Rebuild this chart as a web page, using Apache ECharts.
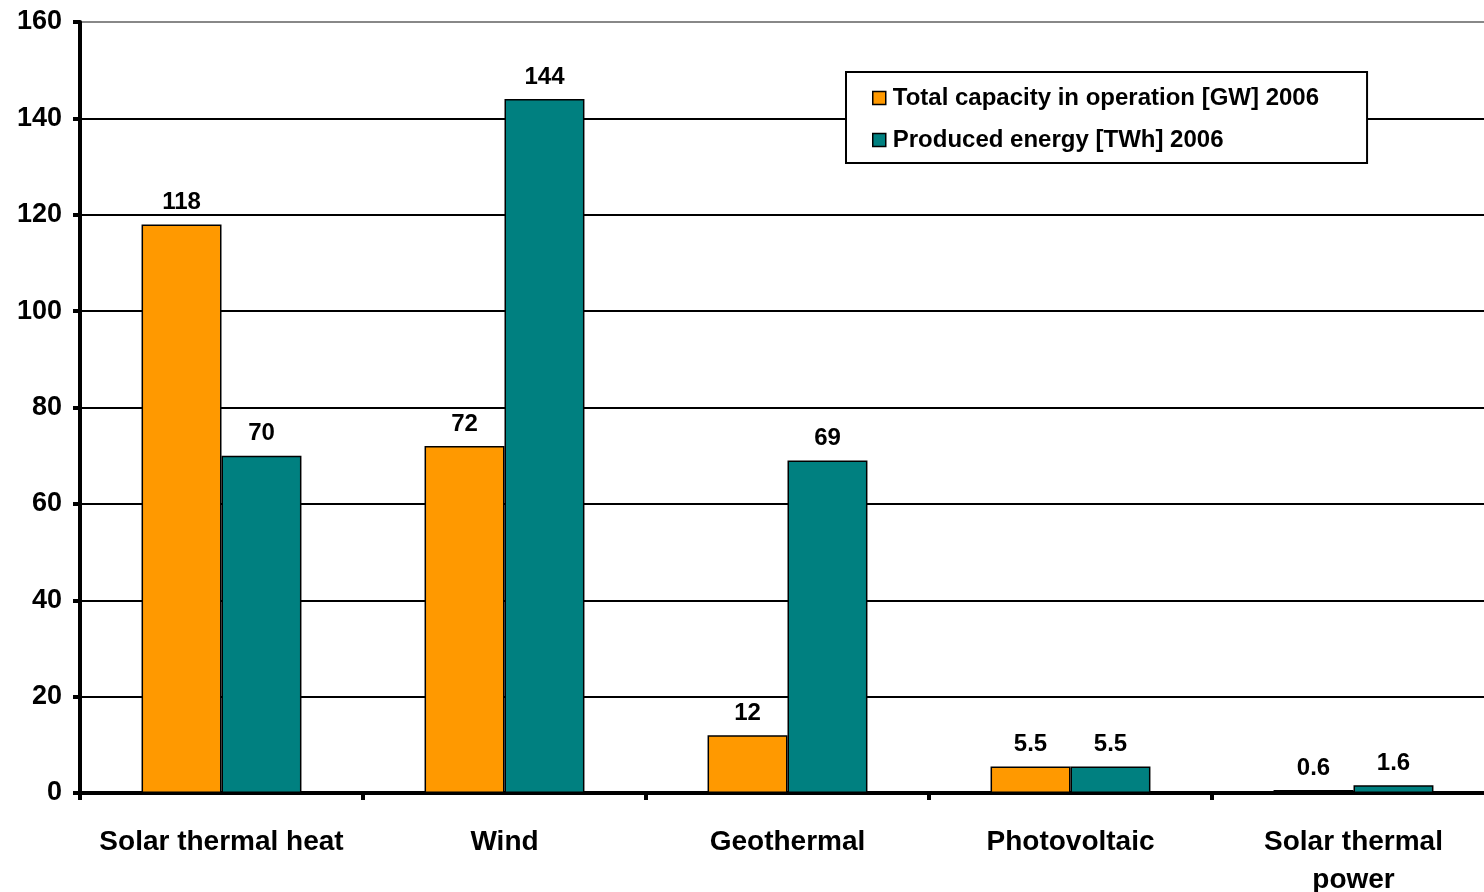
<!DOCTYPE html>
<html>
<head>
<meta charset="utf-8">
<script src="https://cdn.jsdelivr.net/npm/echarts@6/dist/echarts.min.js"></script>
<style>
  html, body { margin: 0; padding: 0; background: #fff; }
  #chart { width: 1484px; height: 892px; }
</style>
</head>
<body>
<div id="chart"></div>
<script>
// categories and values
const categories = ['Solar thermal heat', 'Wind', 'Geothermal', 'Photovoltaic', 'Solar thermal\npower'];
const capacityGW = [118, 72, 12, 5.5, 0.6];
const energyTWh = [70, 144, 69, 5.5, 1.6];
const seriesNames = ['Total capacity in operation [GW] 2006', 'Produced energy [TWh] 2006'];

const font = '"Liberation Sans", Arial, sans-serif';

let myChart = echarts.init(document.getElementById('chart'));
let option;

option = {
  animation: false,
  textStyle: { fontFamily: font },
  grid: { left: 80, top: 22, right: -11, bottom: 99, outerBoundsMode: 'none' },
  legend: {
    orient: 'vertical',
    left: 846,
    top: 72,
    padding: [14, 48, 11, 26],
    backgroundColor: '#fff',
    borderColor: '#000',
    borderWidth: 2,
    itemWidth: 13,
    itemHeight: 13,
    itemGap: 18,
    textStyle: { fontFamily: font, fontSize: 24, fontWeight: 'bold', color: '#000', padding: [0, 0, 0, 2] },
    data: seriesNames.map(n => ({ name: n, icon: 'rect', itemStyle: { borderColor: '#000', borderWidth: 1.5 } }))
  },
  xAxis: {
    type: 'category',
    data: categories,
    axisLine: { lineStyle: { color: '#000', width: 4 } },
    axisTick: { show: true, length: 7, lineStyle: { color: '#000', width: 4 } },
    axisLabel: {
      margin: 30,
      fontSize: 28,
      fontWeight: 'bold',
      color: '#000',
      lineHeight: 38,
      fontFamily: font,
      interval: 0
    }
  },
  yAxis: {
    type: 'value',
    min: 0,
    max: 160,
    interval: 20,
    axisLine: { show: true, lineStyle: { color: '#000', width: 4 } },
    axisTick: { show: true, length: 7, lineStyle: { color: '#000', width: 4 } },
    axisLabel: { margin: 18, fontSize: 27, fontWeight: 'bold', color: '#000', fontFamily: font },
    splitLine: {
      show: true,
      lineStyle: { color: ['#000', '#000', '#000', '#000', '#000', '#000', '#000', '#000', '#888'], width: 2 }
    }
  },
  series: [
    {
      name: seriesNames[0],
      type: 'bar',
      data: capacityGW,
      barGap: '0%',
      barCategoryGap: '43.5%',
      itemStyle: { color: '#FF9900', borderColor: '#000', borderWidth: 1.5 },
      label: { show: true, position: 'top', distance: 10, fontSize: 24, fontWeight: 'bold', color: '#000', fontFamily: font }
    },
    {
      name: seriesNames[1],
      type: 'bar',
      data: energyTWh,
      barGap: '0%',
      barCategoryGap: '43.5%',
      itemStyle: { color: '#008080', borderColor: '#000', borderWidth: 1.5 },
      label: { show: true, position: 'top', distance: 10, fontSize: 24, fontWeight: 'bold', color: '#000', fontFamily: font }
    }
  ]
};

option && myChart.setOption(option);
</script>
</body>
</html>
